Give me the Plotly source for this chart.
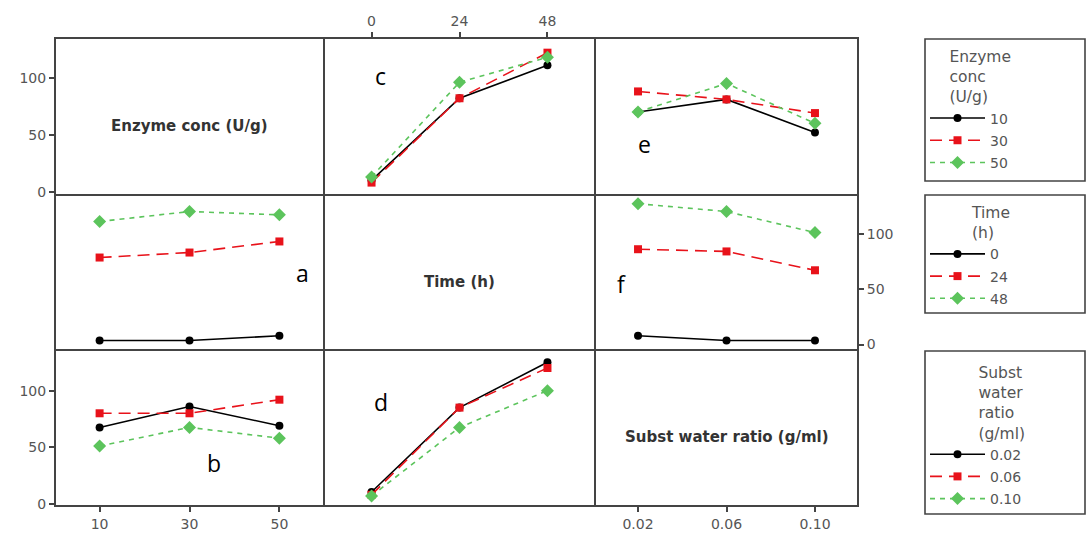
import plotly.graph_objects as go
from plotly.subplots import make_subplots

# ---------------- data ----------------
enzyme_levels = [10, 30, 50]
time_levels = [0, 24, 48]
ratio_levels = [0.02, 0.06, 0.10]

enzyme_names = ["10", "30", "50"]
time_names = ["0", "24", "48"]
ratio_names = ["0.02", "0.06", "0.10"]

# panel c : x = time, lines = enzyme conc
c_enz10 = [10, 82, 111]
c_enz30 = [8, 82, 122]
c_enz50 = [13, 96, 118]
# panel e : x = substrate water ratio, lines = enzyme conc
e_enz10 = [70, 81, 52]
e_enz30 = [88, 81, 69]
e_enz50 = [70, 95, 60]
# panel a : x = enzyme conc, lines = time
a_t0 = [3.6, 3.6, 8]
a_t24 = [78.5, 83, 93]
a_t48 = [111, 120, 117]
# panel f : x = substrate water ratio, lines = time
f_t0 = [8, 3.6, 3.6]
f_t24 = [86, 84, 67]
f_t48 = [127, 120, 101]
# panel b : x = enzyme conc, lines = substrate water ratio
b_r002 = [67.5, 86, 69]
b_r006 = [80, 80, 92]
b_r010 = [51, 67.5, 58]
# panel d : x = time, lines = substrate water ratio
d_r002 = [10.5, 85, 125]
d_r006 = [8, 85, 120]
d_r010 = [7, 67.5, 100]

y_ticks = [0, 50, 100]

# ---------------- layout helpers ----------------
W, H = 1089, 533
L, R, T, B = 56, 232, 39, 28
PW, PH = W - L - R, H - T - B
LW = 2

# panel domains in pixels; the gap of LW lets neighbouring border lines coincide
col_px = [(56, 323), (325, 594), (596, 857)]
row_px = [(39, 194), (196, 349), (351, 505)]
x_ranges = [[0.3, 59.7], [-12.7, 60.7], [0.001, 0.119]]
y_ranges = [[-2, 134], [-4, 134], [-1, 135]]


def px_x(p):
    return (p - L) / PW


def px_y(p):
    return (H - B - p) / PH


fig = make_subplots(rows=3, cols=3, horizontal_spacing=0, vertical_spacing=0)

styles = [
    dict(color="black", dash="solid", symbol="circle", size=8),
    dict(color="#e8121a", dash="12px,7px", symbol="square", size=8),
    dict(color="#5cc45c", dash="5px,5px", symbol="diamond", size=10),
]


def add_panel(row, col, xvals, series, names, legend, group, show):
    for i, (yv, nm) in enumerate(zip(series, names)):
        st = styles[i]
        fig.add_trace(
            go.Scatter(
                x=xvals, y=yv, name=nm, mode="lines+markers",
                line=dict(color=st["color"], dash=st["dash"], width=1.6),
                marker=dict(color=st["color"], symbol=st["symbol"], size=st["size"]),
                legend=legend, legendgroup=group + nm, showlegend=show,
            ),
            row=row, col=col,
        )


add_panel(1, 2, time_levels, [c_enz10, c_enz30, c_enz50], enzyme_names, "legend", "enz", True)
add_panel(1, 3, ratio_levels, [e_enz10, e_enz30, e_enz50], enzyme_names, "legend", "enz", False)
add_panel(2, 1, enzyme_levels, [a_t0, a_t24, a_t48], time_names, "legend2", "time", True)
add_panel(2, 3, ratio_levels, [f_t0, f_t24, f_t48], time_names, "legend2", "time", False)
add_panel(3, 1, enzyme_levels, [b_r002, b_r006, b_r010], ratio_names, "legend3", "ratio", True)
add_panel(3, 2, time_levels, [d_r002, d_r006, d_r010], ratio_names, "legend3", "ratio", False)

# empty traces so the diagonal (label-only) panels exist
for k in range(1, 4):
    fig.add_trace(go.Scatter(x=[], y=[], showlegend=False, hoverinfo="skip"), row=k, col=k)

tick_font = dict(family="DejaVu Sans", size=14, color="#555")
axis_common = dict(showline=True, mirror=True, linecolor="#444", linewidth=LW,
                   showgrid=False, zeroline=False, ticks="", showticklabels=False,
                   tickfont=tick_font, ticklen=5, tickcolor="#444", tickwidth=1.5,
                   automargin=False)

for r in range(3):
    for c in range(3):
        idx = r * 3 + c + 1
        xa = "xaxis" if idx == 1 else f"xaxis{idx}"
        ya = "yaxis" if idx == 1 else f"yaxis{idx}"
        xdom = [px_x(col_px[c][0]), px_x(col_px[c][1])]
        ydom = [px_y(row_px[r][1]), px_y(row_px[r][0])]
        fig.layout[xa].update(dict(axis_common, domain=xdom, range=x_ranges[c]))
        fig.layout[ya].update(dict(axis_common, domain=ydom, range=y_ranges[r]))

# visible axes
tick_on = dict(ticks="outside", showticklabels=True)
fig.layout["yaxis"].update(tick_on, tickvals=y_ticks)
fig.layout["yaxis7"].update(tick_on, tickvals=y_ticks)
fig.layout["yaxis6"].update(tick_on, tickvals=y_ticks, side="right")
fig.layout["xaxis2"].update(tick_on, tickvals=time_levels, ticktext=time_names, side="top")
fig.layout["xaxis7"].update(tick_on, tickvals=enzyme_levels, ticktext=enzyme_names)
fig.layout["xaxis9"].update(tick_on, tickvals=ratio_levels, ticktext=ratio_names)

# diagonal labels
diag = [("x", "y", "Enzyme conc (U/g)"), ("x5", "y5", "Time (h)"), ("x9", "y9", "Subst water ratio (g/ml)")]
for xr, yr, txt in diag:
    fig.add_annotation(x=0.5, y=0.44, xref=f"{xr} domain", yref=f"{yr} domain", text=f"<b>{txt}</b>",
                       showarrow=False, font=dict(family="DejaVu Sans", size=15, color="#333"))

# panel letters
letters = [("x2", "y2", 0.178, 0.88, "c"), ("x3", "y3", 0.153, 0.204, "e"), ("x4", "y4", 0.954, 0.495, "a"),
           ("x6", "y6", 0.072, 0.426, "f"), ("x7", "y7", 0.59, 0.154, "b"), ("x8", "y8", 0.173, 0.786, "d")]
for xr, yr, fx, fy, t in letters:
    fig.add_annotation(x=fx, y=fy, xref=f"{xr} domain", yref=f"{yr} domain", text=t, showarrow=False,
                       font=dict(family="Open Sans", size=23, color="black"))

# legend boxes
boxes = [(39, 181), (195, 313), (351, 514)]
for t0, t1 in boxes:
    fig.add_shape(type="rect", xref="paper", yref="paper", x0=px_x(925), x1=px_x(1085),
                  y0=px_y(t1), y1=px_y(t0), line=dict(color="#444", width=1.6))

leg_font = dict(family="DejaVu Sans", size=14, color="#555")
title_font = dict(family="DejaVu Sans", size=15.5, color="#555")
leg_common = dict(xanchor="left", yanchor="top", x=px_x(925), bgcolor="rgba(0,0,0,0)", borderwidth=0,
                  itemwidth=55, tracegroupgap=1, font=leg_font, itemclick=False, itemdoubleclick=False)
fig.update_layout(
    legend=dict(leg_common, y=px_y(42), title=dict(text="Enzyme<br>conc<br>(U/g)", side="top right", font=title_font)),
    legend2=dict(leg_common, y=px_y(198), title=dict(text="Time<br>(h)", side="top right", font=title_font)),
    legend3=dict(leg_common, y=px_y(358), title=dict(text="Subst<br>water<br>ratio<br>(g/ml)", side="top right", font=title_font)),
)

fig.update_layout(width=W, height=H, margin=dict(l=L, r=R, t=T, b=B, pad=0, autoexpand=False),
                  plot_bgcolor="white", paper_bgcolor="white", showlegend=True)

fig.write_html("out.html", config={"displayModeBar": False},
               post_script="document.body.style.margin='0';document.body.style.overflow='hidden';")
